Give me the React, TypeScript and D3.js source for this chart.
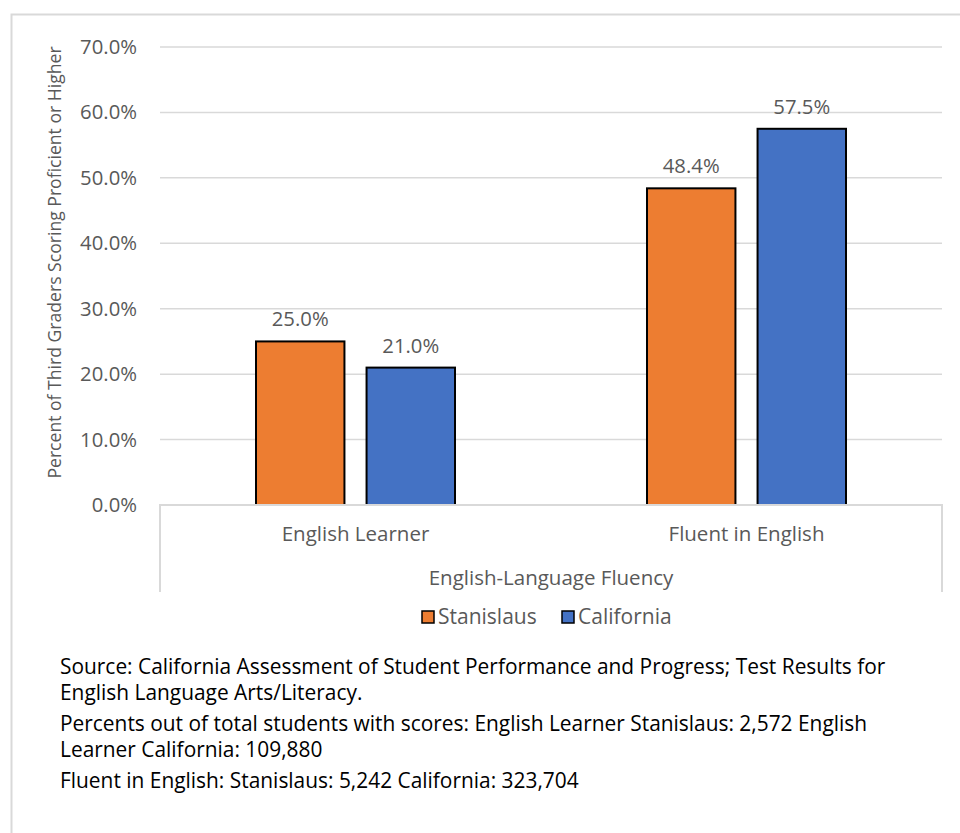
import * as d3 from "d3";
import { useEffect, useRef } from "react";

const categories = ["English Learner", "Fluent in English"];
const seriesNames = ["Stanislaus", "California"];
const stanislaus = [25.0, 48.4];
const california = [21.0, 57.5];
const yTicks = [0, 10, 20, 30, 40, 50, 60, 70];
const notes = [
  ["Source: California Assessment of Student Performance and Progress; Test Results for", "English Language Arts/Literacy."],
  ["Percents out of total students with scores: English Learner Stanislaus: 2,572 English", "Learner California: 109,880"],
  ["Fluent in English: Stanislaus: 5,242 California: 323,704"],
];
const colors = ["#ED7D31", "#4472C4"];

const FONT = "'Open Sans', sans-serif";
const GRAY = "#595959";

const App = () => {
  const ref = useRef(null);

  useEffect(() => {
    const svg = d3.select(ref.current);
    svg.selectAll("*").remove();

    // outer frame
    svg.append("path")
      .attr("d", "M11.5,833 L11.5,14.5 L960,14.5")
      .attr("fill", "none")
      .attr("stroke", "#d9d9d9")
      .attr("stroke-width", 2);

    const left = 160, right = 942, top = 47, bottom = 505;

    const y = d3.scaleLinear().domain([0, 70]).range([bottom, top]);
    const x0 = d3.scaleBand().domain(categories).range([left, right]);
    const x1 = d3.scaleBand().domain(seriesNames).range([0, 199]).paddingInner(0.2);

    // gridlines
    svg.append("g")
      .selectAll("line")
      .data(yTicks.slice(1))
      .join("line")
      .attr("x1", left)
      .attr("x2", right)
      .attr("y1", (d) => y(d))
      .attr("y2", (d) => y(d))
      .attr("stroke", "#d9d9d9")
      .attr("stroke-width", 1.5);

    // tick labels
    svg.append("g")
      .selectAll("text")
      .data(yTicks)
      .join("text")
      .attr("x", 137)
      .attr("y", (d) => y(d) + 7)
      .attr("text-anchor", "end")
      .attr("font-family", FONT)
      .attr("font-size", 20.3)
      .attr("fill", GRAY)
      .text((d) => d.toFixed(1) + "%");

    // y axis title
    svg.append("text")
      .attr("transform", `translate(61,${(top + 478) / 2}) rotate(-90)`)
      .attr("text-anchor", "middle")
      .attr("font-family", FONT)
      .attr("font-size", 17.6)
      .attr("fill", GRAY)
      .text("Percent of Third Graders Scoring Proficient or Higher");

    const series = [stanislaus, california];

    // bars
    const groups = svg.append("g")
      .selectAll("g")
      .data(categories)
      .join("g")
      .attr("transform", (c) => `translate(${x0(c) + x0.bandwidth() / 2 - 99.5},0)`);

    groups.selectAll("rect")
      .data((c, i) => seriesNames.map((s, j) => ({ s, v: series[j][i], j })))
      .join("rect")
      .attr("x", (d) => x1(d.s))
      .attr("y", (d) => y(d.v))
      .attr("width", x1.bandwidth())
      .attr("height", (d) => bottom - y(d.v))
      .attr("fill", (d) => colors[d.j])
      .attr("stroke", "#000")
      .attr("stroke-width", 2);

    groups.selectAll("text")
      .data((c, i) => seriesNames.map((s, j) => ({ s, v: series[j][i], j })))
      .join("text")
      .attr("x", (d) => x1(d.s) + x1.bandwidth() / 2)
      .attr("y", (d) => y(d.v) - 15)
      .attr("text-anchor", "middle")
      .attr("font-family", FONT)
      .attr("font-size", 20.3)
      .attr("fill", GRAY)
      .text((d) => d.v.toFixed(1) + "%");

    // category axis
    svg.append("path")
      .attr("d", `M${left},592 L${left},${bottom} L${right},${bottom} L${right},592`)
      .attr("fill", "none")
      .attr("stroke", "#d9d9d9")
      .attr("stroke-width", 2);

    svg.append("g")
      .selectAll("text")
      .data(categories)
      .join("text")
      .attr("x", (c) => x0(c) + x0.bandwidth() / 2)
      .attr("y", 541)
      .attr("text-anchor", "middle")
      .attr("font-family", FONT)
      .attr("font-size", 20.5)
      .attr("fill", GRAY)
      .text((c) => c);

    svg.append("text")
      .attr("x", (left + right) / 2)
      .attr("y", 585)
      .attr("text-anchor", "middle")
      .attr("font-family", FONT)
      .attr("font-size", 20.5)
      .attr("fill", GRAY)
      .text("English-Language Fluency");

    // legend
    const legendX = [422, 562];
    const legend = svg.append("g")
      .selectAll("g")
      .data(seriesNames)
      .join("g")
      .attr("transform", (d, i) => `translate(${legendX[i]},611)`);
    legend.append("rect")
      .attr("width", 12)
      .attr("height", 12)
      .attr("fill", (d, i) => colors[i])
      .attr("stroke", "#000")
      .attr("stroke-width", 1.5);
    legend.append("text")
      .attr("x", 16)
      .attr("y", 13)
      .attr("font-family", FONT)
      .attr("font-size", 21)
      .attr("fill", GRAY)
      .text((d) => d);

    // footnotes
    let ny = 674;
    notes.forEach((para) => {
      para.forEach((line) => {
        svg.append("text")
          .attr("x", 60)
          .attr("y", ny)
          .attr("font-family", FONT)
          .attr("font-size", 20.9)
          .attr("fill", "#000")
          .text(line);
        ny += 26;
      });
      ny += 5;
    });
  }, []);

  return (
    <svg
      ref={ref}
      width={960}
      height={833}
      style={{ position: "absolute", left: 0, top: 0, background: "#fff" }}
    />
  );
};

export default App;
